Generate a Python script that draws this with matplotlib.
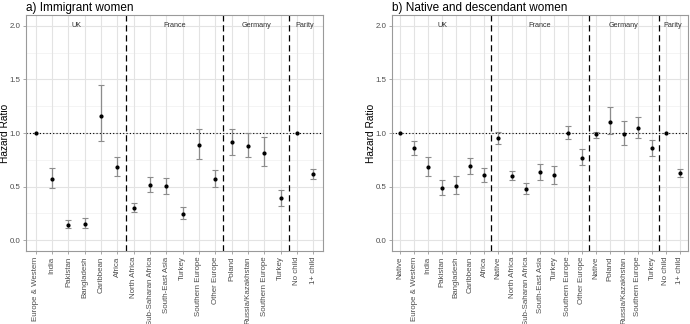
import matplotlib
matplotlib.use("Agg")
import matplotlib.pyplot as plt
import numpy as np

plt.rcParams['font.family'] = ['Liberation Sans', 'DejaVu Sans']

# ---- Panel a: Immigrant women ----
cats_a = ["Europe & Western", "India", "Pakistan", "Bangladesh", "Caribbean", "Africa",
          "North Africa", "Sub-Saharan Africa", "South-East Asia", "Turkey", "Southern Europe", "Other Europe",
          "Poland", "Russia/Kazakhstan", "Southern Europe", "Turkey",
          "No child", "1+ child"]
hr_a = [1.0, 0.574, 0.145, 0.151, 1.160, 0.682,
        0.299, 0.519, 0.503, 0.244, 0.889, 0.571,
        0.914, 0.883, 0.815, 0.392,
        1.0, 0.617]
lo_a = [np.nan, 0.491, 0.111, 0.111, 0.926, 0.602,
        0.259, 0.454, 0.432, 0.198, 0.762, 0.500,
        0.796, 0.778, 0.688, 0.324,
        np.nan, 0.574]
hi_a = [np.nan, 0.670, 0.188, 0.204, 1.451, 0.778,
        0.343, 0.590, 0.583, 0.306, 1.034, 0.651,
        1.040, 0.997, 0.963, 0.472,
        np.nan, 0.667]
groups_a = ["UK", "France", "Germany", "Parity"]
sizes_a = [6, 6, 4, 2]

# ---- Panel b: Native and descendant women ----
cats_b = ["Native", "Europe & Western", "India", "Pakistan", "Bangladesh", "Caribbean", "Africa",
          "Native", "North Africa", "Sub-Saharan Africa", "South-East Asia", "Turkey", "Southern Europe", "Other Europe",
          "Native", "Poland", "Russia/Kazakhstan", "Southern Europe", "Turkey",
          "No child", "1+ child"]
hr_b = [1.0, 0.861, 0.679, 0.491, 0.509, 0.691, 0.605,
        0.954, 0.602, 0.481, 0.636, 0.608, 1.003, 0.769,
        0.988, 1.105, 0.991, 1.046, 0.858,
        1.0, 0.623]
lo_b = [np.nan, 0.796, 0.596, 0.426, 0.435, 0.617, 0.540,
        0.901, 0.565, 0.432, 0.565, 0.528, 0.944, 0.698,
        0.954, 0.991, 0.886, 0.951, 0.787,
        np.nan, 0.590]
hi_b = [np.nan, 0.923, 0.772, 0.565, 0.599, 0.769, 0.673,
        1.006, 0.642, 0.537, 0.710, 0.694, 1.065, 0.852,
        1.012, 1.241, 1.108, 1.148, 0.935,
        np.nan, 0.660]
groups_b = ["UK", "France", "Germany", "Parity"]
sizes_b = [7, 7, 5, 2]

W, H = 690, 324
fig = plt.figure(figsize=(W / 100, H / 100), dpi=100)

def px_axes(l, r, t, b):
    return fig.add_axes([l / W, 1 - b / H, (r - l) / W, (b - t) / H])

ax_a = px_axes(26, 323, 15, 251)
ax_b = px_axes(391.7, 688.3, 15, 251)

border = '#9a9a9a'
grid_major = '#e3e3e3'
grid_minor = '#f0f0f0'
tick_col = '#4d4d4d'

def draw(ax, cats, hr, lo, hi, groups, sizes, title, left_px, width_px, label_right_px):
    n = len(cats)
    x = np.arange(1, n + 1)
    ax.set_xlim(0.4, n + 0.6)
    ax.set_ylim(-0.1, 2.1)
    # grid
    for yv in [0.25, 0.75, 1.25, 1.75]:
        ax.axhline(yv, color=grid_minor, lw=0.5, zorder=0)
    for yv in [0, 0.5, 1.0, 1.5, 2.0]:
        ax.axhline(yv, color=grid_major, lw=0.8, zorder=0)
    for xv in x:
        ax.axvline(xv, color=grid_major, lw=0.8, zorder=0)
    hr = np.array(hr); lo = np.array(lo); hi = np.array(hi)
    ok = ~np.isnan(lo)
    ax.errorbar(x[ok], hr[ok], yerr=[hr[ok] - lo[ok], hi[ok] - hr[ok]], fmt='none',
                ecolor='#8c8c8c', elinewidth=0.9, capsize=1.9, capthick=0.8, zorder=2)
    ax.plot(x, hr, 'o', color='black', ms=2.0, zorder=3)
    ax.axhline(1.0, color='black', lw=0.8, ls=(0, (1, 2)), zorder=1)
    # group separators and labels
    start = 0.5
    for g, s in zip(groups, sizes):
        end = start + s
        ax.text((start + end) / 2, 2.0, g, ha='center', va='center', fontsize=5.2, color='#333333')
        if end < n + 0.5:
            ax.axvline(end, color='black', lw=0.9, ls=(0, (5, 3)), zorder=2)
        start = end
    ax.set_xticks(x)
    ax.set_xticklabels(cats, rotation=90, fontsize=5.7, color=tick_col)
    ax.set_yticks([0, 0.5, 1.0, 1.5, 2.0])
    ax.set_yticklabels(['0.0', '0.5', '1.0', '1.5', '2.0'], fontsize=5.7, color=tick_col)
    ax.tick_params(axis='both', length=2.5, width=0.6, color=border, pad=1.5)
    for sp in ax.spines.values():
        sp.set_color(border)
        sp.set_linewidth(0.8)
    ax.set_ylabel('Hazard Ratio', fontsize=7.3)
    ax.yaxis.set_label_coords(-(left_px - label_right_px) / width_px, 0.5)
    ax.set_title(title, loc='left', fontsize=8.5, pad=3)

draw(ax_a, cats_a, hr_a, lo_a, hi_a, groups_a, sizes_a, 'a) Immigrant women', 26, 297, 10.5)
draw(ax_b, cats_b, hr_b, lo_b, hi_b, groups_b, sizes_b, 'b) Native and descendant women', 391.7, 296.6, 375.5)

fig.savefig('out.png', dpi=100)
